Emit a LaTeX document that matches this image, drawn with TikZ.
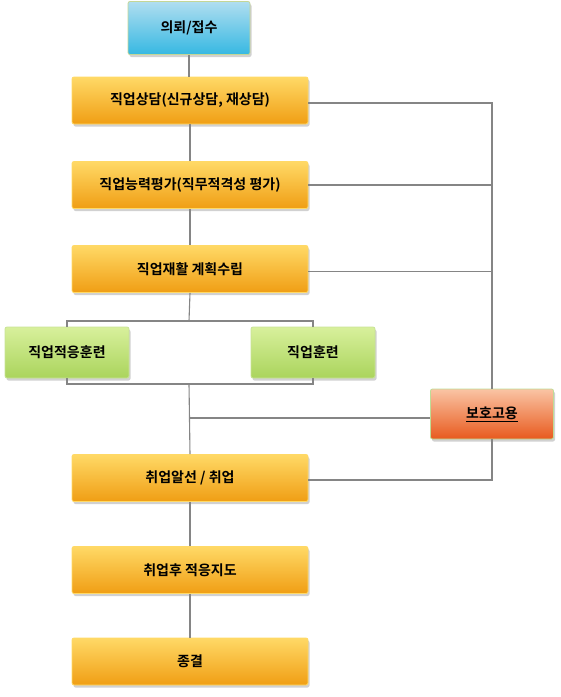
\documentclass[tikz,border=0pt]{standalone}
\usepackage{fontspec}
\newfontfamily\kr{Noto Sans CJK KR Bold}
\usetikzlibrary{calc,shadows}
\definecolor{linegray}{HTML}{858585}
\tikzset{
  box/.style={rectangle, rounded corners=2pt, line width=0.8pt, font=\kr\fontsize{14}{16}\selectfont, text=black,
    drop shadow={shadow xshift=1.5pt, shadow yshift=-2.5pt, opacity=0.18, fill=black}},
  obox/.style={box, draw=orange!50!yellow!60, top color={rgb,255:red,255;green,217;blue,102}, bottom color={rgb,255:red,240;green,158;blue,20}, minimum width=236pt, minimum height=47pt},
  bbox/.style={box, draw={rgb,255:red,196;green,214;blue,150}, top color={rgb,255:red,176;green,222;blue,240}, bottom color={rgb,255:red,54;green,184;blue,226}, minimum width=122pt, minimum height=53pt},
  gbox/.style={box, draw={rgb,255:red,200;green,226;blue,150}, top color={rgb,255:red,216;green,240;blue,156}, bottom color={rgb,255:red,170;green,212;blue,92}, minimum width=124pt, minimum height=51pt},
  rbox/.style={box, draw={rgb,255:red,190;green,220;blue,150}, top color={rgb,255:red,250;green,196;blue,164}, bottom color={rgb,255:red,232;green,90;blue,30}, minimum width=123pt, minimum height=50pt},
  conn/.style={draw=linegray, line width=1.1pt}
}
\begin{document}
\begin{tikzpicture}[x=1pt,y=-1pt]
\useasboundingbox (0,0) rectangle (561,697);
% nodes
\node[bbox] (req) at (189,28) {의뢰/접수};
\node[obox] (c1) at (190,100.5) {직업상담(신규상담, 재상담)};
\node[obox] (c2) at (190,185) {직업능력평가(직무적격성 평가)};
\node[obox] (c3) at (190,269) {직업재활 계획수립};
\node[gbox] (t1) at (67,352.5) {직업적응훈련};
\node[gbox] (t2) at (313,352.5) {직업훈련};
\node[rbox] (prot) at (492,414) {\underline{보호고용}};
\node[obox] (job) at (190,478) {취업알선 / 취업};
\node[obox] (aft) at (190,570) {취업후 적응지도};
\node[obox] (end) at (190,661.5) {종결};
% coordinates
\coordinate (split) at (189,321);
\coordinate (merge) at (189,384);
\coordinate (pj) at (189,418);
% connectors
\draw[conn] (req.south) -- (req.south |- c1.north);
\draw[conn] (c1.south) -- (c2.north);
\draw[conn] (c2.south) -- (c3.north);
\draw[conn] (c3.south) -- (split);
\draw[conn] (t1.north) -- (t1.north |- split) -- (t2.north |- split) -- (t2.north);
\draw[conn] (t1.south) -- (t1.south |- merge) -- (t2.south |- merge) -- (t2.south);
\draw[conn] (merge) -- (job.north);
\draw[conn] (pj) -- (prot.west |- pj);
\draw[conn] (job.south) -- (aft.north);
\draw[conn] (aft.south) -- (end.north);
\draw[conn] ($(c1.east)+(0,2.5)$) -| (prot.north);
\draw[conn] (c2.east) -- (c2.east -| prot.north);
\draw[conn] ($(c3.east)+(0,2.5)$) -- ($(c3.east -| prot.north)+(0,2.5)$);
\draw[conn] ($(job.east)+(0,2)$) -| (prot.south);
\end{tikzpicture}
\end{document}
